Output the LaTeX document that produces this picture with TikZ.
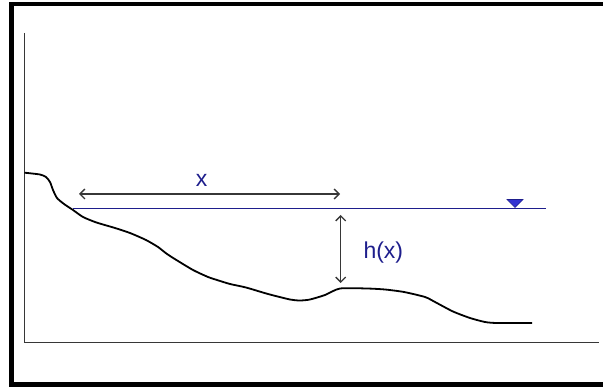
\documentclass[tikz,border=0pt]{standalone}
\usepackage{fontspec}
\setmainfont{Liberation Sans}
\usepackage{tikz}
\definecolor{navy}{RGB}{30, 30, 140}
\definecolor{wblue}{RGB}{50, 50, 210}
\definecolor{axisgray}{RGB}{55, 55, 55}
\usetikzlibrary{arrows.meta}
\usetikzlibrary{positioning}

\tikzset{
    dim/.style={axisgray, line width=1.3pt, {Straight Barb[length=5pt,width=10pt]}-{Straight Barb[length=5pt,width=10pt]}},
    lbl/.style={inner sep=0pt, text=navy, font=\fontsize{23}{27}\selectfont}
}

\begin{document}
\begin{tikzpicture}[x=1pt, y=-1pt]
        \useasboundingbox (0,0) rectangle (603,387);
        \clip (0,0) rectangle (603,387);
        % frame and axes
        \draw[line width=4.5pt] (11.5,4) rectangle (620,384.5);
        \draw[axisgray, line width=1.3pt] (24.5,33) -- (24.5,342.7) -- (599,342.7);
        % bed
        \draw[line width=1.8pt, line join=round] plot[smooth, tension=0.4] coordinates {
            (24.5,172.7) (40,174.5) (46,177) (50,182) (53,190) (57,198) (64,204) (73,210)
            (83,217) (95,222) (103,224.5) (115,228) (130,233) (146,240) (158,247) (167,254)
            (178,261) (193,270) (208,277) (217,280) (230,284) (246,287.5) (268,294) (290,299.5)
            (300,300.5) (310,299.5) (325,295) (340,288.5) (367,288.5) (385,289.5) (404,292)
            (425,297) (435,302) (453,311.5) (470,318) (485,322) (497,323) (532,323)};
        % water surface
        \coordinate (wl) at (73,209);
        \coordinate (wr) at (546,209);
        \draw[navy, line width=1pt] (wl) -- (wr);
        \fill[wblue, draw=navy, line width=0.6pt] (507,199.5) -- (523,199.5) -- (515,207.5) -- cycle;
        % distance x
        \coordinate (xa) at (79,194);
        \coordinate (xb) at (340,194);
        \draw[dim] (xa) -- (xb);
        \node[lbl, anchor=base] (xlabel) at (201.7,186.7) {x};
        % depth h(x)
        \coordinate (ht) at (340.7,215);
        \coordinate (hb) at (340.7,283);
        \draw[dim] (ht) -- (hb);
        \node[lbl, anchor=base west] (hlabel) at (363.3,258.3) {h(x)};
    \end{tikzpicture}
\end{document}
